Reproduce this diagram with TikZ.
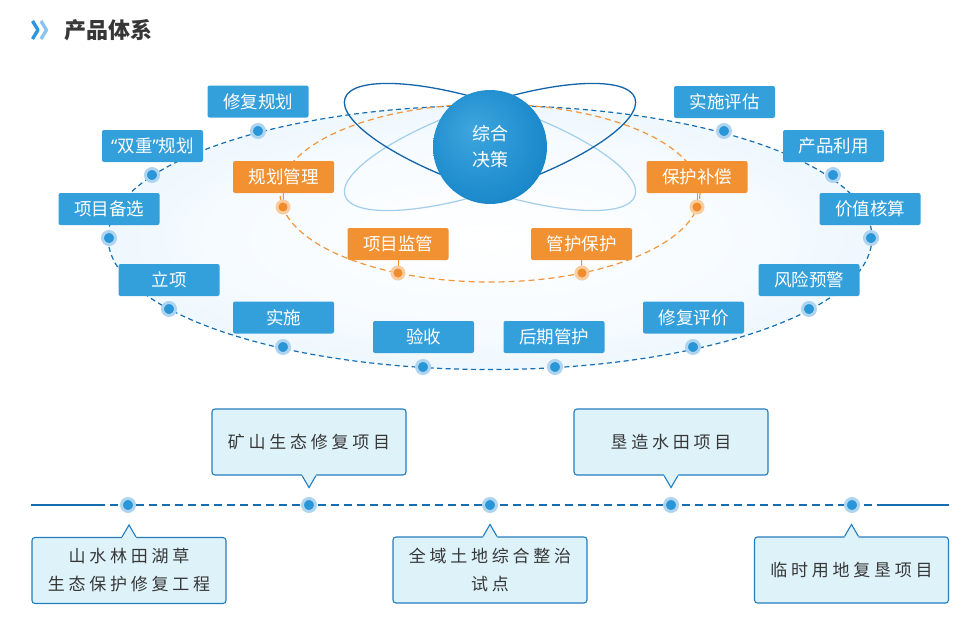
\documentclass[tikz,border=0pt]{standalone}
\usepackage{fontspec}
\setmainfont{Noto Sans CJK SC}
\newfontfamily\spaced[LetterSpace=22]{Noto Sans CJK SC}
\newfontfamily\latin{Noto Sans}
\usetikzlibrary{calc}
\definecolor{boxblue}{RGB}{52,160,219}
\definecolor{boxorange}{RGB}{241,145,50}
\definecolor{dashblue}{RGB}{22,110,178}
\definecolor{dashorange}{RGB}{240,150,60}
\definecolor{halob}{RGB}{175,212,240}
\definecolor{haloo}{RGB}{250,205,160}
\definecolor{dotb}{RGB}{40,150,215}
\definecolor{doto}{RGB}{240,140,45}
\definecolor{callfill}{RGB}{222,242,250}
\definecolor{callline}{RGB}{35,125,190}
\definecolor{txtdark}{RGB}{55,55,55}
\definecolor{fillA}{RGB}{246,251,255}
\definecolor{fillB}{RGB}{224,241,252}
\definecolor{edgeblue}{RGB}{196,228,248}
\definecolor{orbitdark}{RGB}{20,100,170}
\definecolor{orbitlight}{RGB}{140,195,232}
\definecolor{sphA}{RGB}{62,166,222}
\definecolor{sphB}{RGB}{30,140,205}
\definecolor{sphC}{RGB}{5,110,180}
\definecolor{chevA}{RGB}{45,150,220}
\definecolor{chevB}{RGB}{140,196,240}
\pgfdeclareradialshading{ellshade}{\pgfpoint{0bp}{0bp}}{color(0bp)=(white); color(18bp)=(fillA); color(38bp)=(fillB); color(50bp)=(edgeblue)}
\pgfdeclareradialshading{sphshade}{\pgfpoint{-8bp}{8bp}}{color(0bp)=(sphA); color(25bp)=(sphB); color(50bp)=(sphC)}
\tikzset{
  bbox/.style={fill=boxblue, rounded corners=2pt, minimum width=101pt, minimum height=32pt, text=white, font=\fontsize{17.5}{20}\selectfont},
  obox/.style={bbox, fill=boxorange},
  bdot/.style={circle, fill=dotb, draw=halob, line width=3pt, minimum size=13pt},
  odot/.style={circle, fill=doto, draw=haloo, line width=3pt, minimum size=12pt},
  callout/.style={draw=callline, fill=callfill, line width=1.1pt, rounded corners=3pt, minimum width=194pt, minimum height=66pt, text=txtdark, font=\spaced\fontsize{17}{28}\selectfont, align=center},
  orbitd/.style={draw=orbitdark, line width=1.3pt},
  orbitl/.style={draw=orbitlight, line width=1.2pt, opacity=0.8},
  tline/.style={draw=dashblue, line width=1.1pt},
  conn/.style={draw=boxorange, line width=1pt}
}
\begin{document}
\begin{tikzpicture}[x=1pt,y=-1pt, every node/.style={inner sep=0pt}]
\useasboundingbox (0,0) rectangle (980,643);
% title
\draw[chevA, line width=3.4pt, line join=round] (32.5,21) -- (38,30) -- (32.5,39);
\draw[chevB, line width=3.4pt, line join=round] (41,21) -- (46.5,30) -- (41,39);
\node[anchor=west, text=txtdark, font=\bfseries\fontsize{22}{26}\selectfont] (title) at (64,30) {产品体系};
% big ellipse fill
\shade[shading=ellshade] (490,237.5) ellipse [x radius=382, y radius=132];
% light orbit halves
\begin{scope}[shift={(490,147)}, rotate=-18.6]
  \begin{scope}
    \clip (0,-80) rectangle (180,80);
    \draw[orbitl] (0,0) ellipse [x radius=153, y radius=43];
  \end{scope}
\end{scope}
\begin{scope}[shift={(490,147)}, rotate=18.6]
  \begin{scope}
    \clip (0,-80) rectangle (-180,80);
    \draw[orbitl] (0,0) ellipse [x radius=153, y radius=43];
  \end{scope}
\end{scope}
% dashed ellipses
\draw[dashblue, line width=1.2pt, dash pattern=on 5pt off 3.5pt] (490,237.5) ellipse [x radius=382, y radius=132];
\draw[dashorange, line width=1.2pt, dash pattern=on 6pt off 4pt] (490,193) ellipse [x radius=210, y radius=89];
% dark orbit halves
\begin{scope}[shift={(490,147)}, rotate=-18.6]
  \begin{scope}
    \clip (0,-80) rectangle (-180,80);
    \draw[orbitd] (0,0) ellipse [x radius=153, y radius=43];
  \end{scope}
\end{scope}
\begin{scope}[shift={(490,147)}, rotate=18.6]
  \begin{scope}
    \clip (0,-80) rectangle (180,80);
    \draw[orbitd] (0,0) ellipse [x radius=153, y radius=43];
  \end{scope}
\end{scope}
% sphere
\node[circle, minimum size=114pt, shade, shading=sphshade, text=white, align=center, font=\fontsize{18}{26}\selectfont] (core) at (490,147) {综合\\决策};
% blue labels
\node[bbox] (b1) at (258,101.5) {修复规划};
\node[bbox] (b2) at (152.5,146) {{\latin “}双重{\latin ”}规划};
\node[bbox] (b3) at (109,209) {项目备选};
\node[bbox] (b4) at (169,280) {立项};
\node[bbox] (b5) at (283.5,317.5) {实施};
\node[bbox] (b6) at (423.5,337) {验收};
\node[bbox] (b7) at (554,337) {后期管护};
\node[bbox] (b8) at (693.5,317.5) {修复评价};
\node[bbox] (b9) at (809,280) {风险预警};
\node[bbox] (b10) at (870,209) {价值核算};
\node[bbox] (b11) at (833.5,146) {产品利用};
\node[bbox] (b12) at (724.5,102) {实施评估};
% blue dots
\node[bdot] (bd1) at (258,131) {};
\node[bdot] (bd2) at (152,175) {};
\node[bdot] (bd3) at (109,238) {};
\node[bdot] (bd4) at (169,309) {};
\node[bdot] (bd5) at (283,347) {};
\node[bdot] (bd6) at (423,367) {};
\node[bdot] (bd7) at (555,367) {};
\node[bdot] (bd8) at (693,347) {};
\node[bdot] (bd9) at (809,309) {};
\node[bdot] (bd10) at (871,238) {};
\node[bdot] (bd11) at (833,175) {};
\node[bdot] (bd12) at (724,131) {};
% orange labels
\node[obox] (o1) at (283.5,177) {规划管理};
\node[obox] (o2) at (398,244) {项目监管};
\node[obox] (o3) at (581.5,244) {管护保护};
\node[obox] (o4) at (697,177) {保护补偿};
\node[odot] (od1) at (283,207) {};
\node[odot] (od2) at (398,273) {};
\node[odot] (od3) at (582,273) {};
\node[odot] (od4) at (697,207) {};
\draw[conn] (o1.south) -- (od1);
\draw[conn] (o2.south) -- (od2);
\draw[conn] (o3.south) -- (od3);
\draw[conn] (o4.south) -- (od4);
% timeline
\coordinate (tl) at (31,505);
\coordinate (tlm) at (97,505);
\coordinate (trm) at (878,505);
\coordinate (tr) at (949,505);
\draw[tline] (tl) -- (tlm);
\draw[tline, dash pattern=on 8pt off 5pt] (tlm) -- (trm);
\draw[tline] (trm) -- (tr);
\node[bdot] (t1) at (128,505) {};
\node[bdot] (t2) at (309,505) {};
\node[bdot] (t3) at (490,505) {};
\node[bdot] (t4) at (671,505) {};
\node[bdot] (t5) at (852,505) {};
% callouts top
\node[callout] (c2) at (309,442) {矿山生态修复项目};
\node[callout] (c4) at (671,442) {垦造水田项目};
\foreach \c in {c2,c4}{
  \fill[callfill] ($(\c.south)+(-7,0)$) -- ($(\c.south)+(0,12)$) -- ($(\c.south)+(7,0)$) -- ($(\c.south)+(7,-2)$) -- ($(\c.south)+(-7,-2)$) -- cycle;
  \draw[callline, line width=1.1pt] ($(\c.south)+(-7,0)$) -- ($(\c.south)+(0,12)$) -- ($(\c.south)+(7,0)$);
}
% callouts bottom
\node[callout] (c1) at (129,570.5) {山水林田湖草\\生态保护修复工程};
\node[callout] (c3) at (490,570) {全域土地综合整治\\试点};
\node[callout] (c5) at (851.5,570) {临时用地复垦项目};
\foreach \c in {c1,c3,c5}{
  \fill[callfill] ($(\c.north)+(-7,0)$) -- ($(\c.north)+(0,-12)$) -- ($(\c.north)+(7,0)$) -- ($(\c.north)+(7,2)$) -- ($(\c.north)+(-7,2)$) -- cycle;
  \draw[callline, line width=1.1pt] ($(\c.north)+(-7,0)$) -- ($(\c.north)+(0,-12)$) -- ($(\c.north)+(7,0)$);
}
\end{tikzpicture}
\end{document}
